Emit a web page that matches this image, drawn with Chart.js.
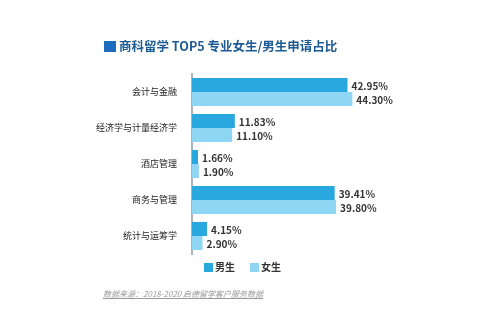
<!DOCTYPE html>
<html lang="zh">
<head>
  <meta charset="UTF-8" />
  <title>商科留学 TOP5 专业女生/男生申请占比</title>
  <script src="https://cdn.jsdelivr.net/npm/chart.js"></script>
  <style>
    html, body { margin: 0; padding: 0; background: #fff; }
    body { width: 494px; height: 332px; position: relative; overflow: hidden; font-family: "Noto Sans CJK SC", "Noto Sans", sans-serif; }
    #chart { position: absolute; left: 0; top: 0; }
    .title { position: absolute; left: 104px; top: 37px; font-size: 12.5px; font-weight: bold; color: #1c5b94; white-space: nowrap; line-height: 17px; }
    .title i { display: inline-block; width: 12px; height: 11px; background: #1d6dbf; vertical-align: -1px; margin-right: 3px; }
    .legend { position: absolute; top: 260px; font-size: 10px; font-weight: bold; color: #333; line-height: 13px; white-space: nowrap; }
    .legend i { display: inline-block; width: 9px; height: 9px; vertical-align: -1px; margin-right: 2px; }
    .source { position: absolute; left: 103px; top: 288px; font-size: 8px; font-style: italic; color: #9a9a9a; text-decoration: underline; white-space: nowrap; }
  </style>
</head>
<body>
  <canvas id="chart" width="494" height="332"></canvas>
  <div class="title"><i></i>商科留学 TOP5 专业女生/男生申请占比</div>
  <div class="legend" style="left:204px"><i style="background:#29a8e0"></i>男生</div>
  <div class="legend" style="left:250px"><i style="background:#8fd5f4"></i>女生</div>
  <div class="source">数据来源：2018-2020 启德留学客户服务数据</div>

  <script>
    const majors = ['会计与金融', '经济学与计量经济学', '酒店管理', '商务与管理', '统计与运筹学'];
    const male = [42.95, 11.83, 1.66, 39.41, 4.15];
    const female = [44.30, 11.10, 1.90, 39.80, 2.90];

    // percent labels at the end of each bar
    const valueLabels = {
      id: 'valueLabels',
      afterDatasetsDraw(chart) {
        const ctx = chart.ctx;
        ctx.save();
        ctx.font = 'bold 10px "Noto Sans CJK SC", sans-serif';
        ctx.fillStyle = '#333';
        ctx.textBaseline = 'middle';
        ctx.textAlign = 'left';
        chart.data.datasets.forEach((ds, i) => {
          chart.getDatasetMeta(i).data.forEach((bar, j) => {
            ctx.fillText(ds.data[j].toFixed(2) + '%', bar.x + 4, bar.y + 1);
          });
        });
        ctx.restore();
      }
    };

    new Chart(document.getElementById('chart'), {
      type: 'bar',
      data: {
        labels: majors,
        datasets: [
          { label: '男生', data: male, backgroundColor: '#29a8e0' },
          { label: '女生', data: female, backgroundColor: '#8fd5f4' }
        ]
      },
      options: {
        indexAxis: 'y',
        responsive: false,
        animation: false,
        categoryPercentage: 0.78,
        barPercentage: 1,
        layout: { padding: { left: 0, right: 121, top: 74, bottom: 78 } },
        plugins: { legend: { display: false }, tooltip: { enabled: false } },
        scales: {
          x: { display: false, min: 0, max: 50 },
          y: {
            afterFit(scale) { scale.width = 192; },
            grid: { display: false },
            border: { display: true, color: '#a9b6c2', width: 2 },
            ticks: { color: '#222', padding: 7, font: { size: 9, family: '"Noto Sans CJK SC", sans-serif' } }
          }
        }
      },
      plugins: [valueLabels]
    });
  </script>
</body>
</html>
